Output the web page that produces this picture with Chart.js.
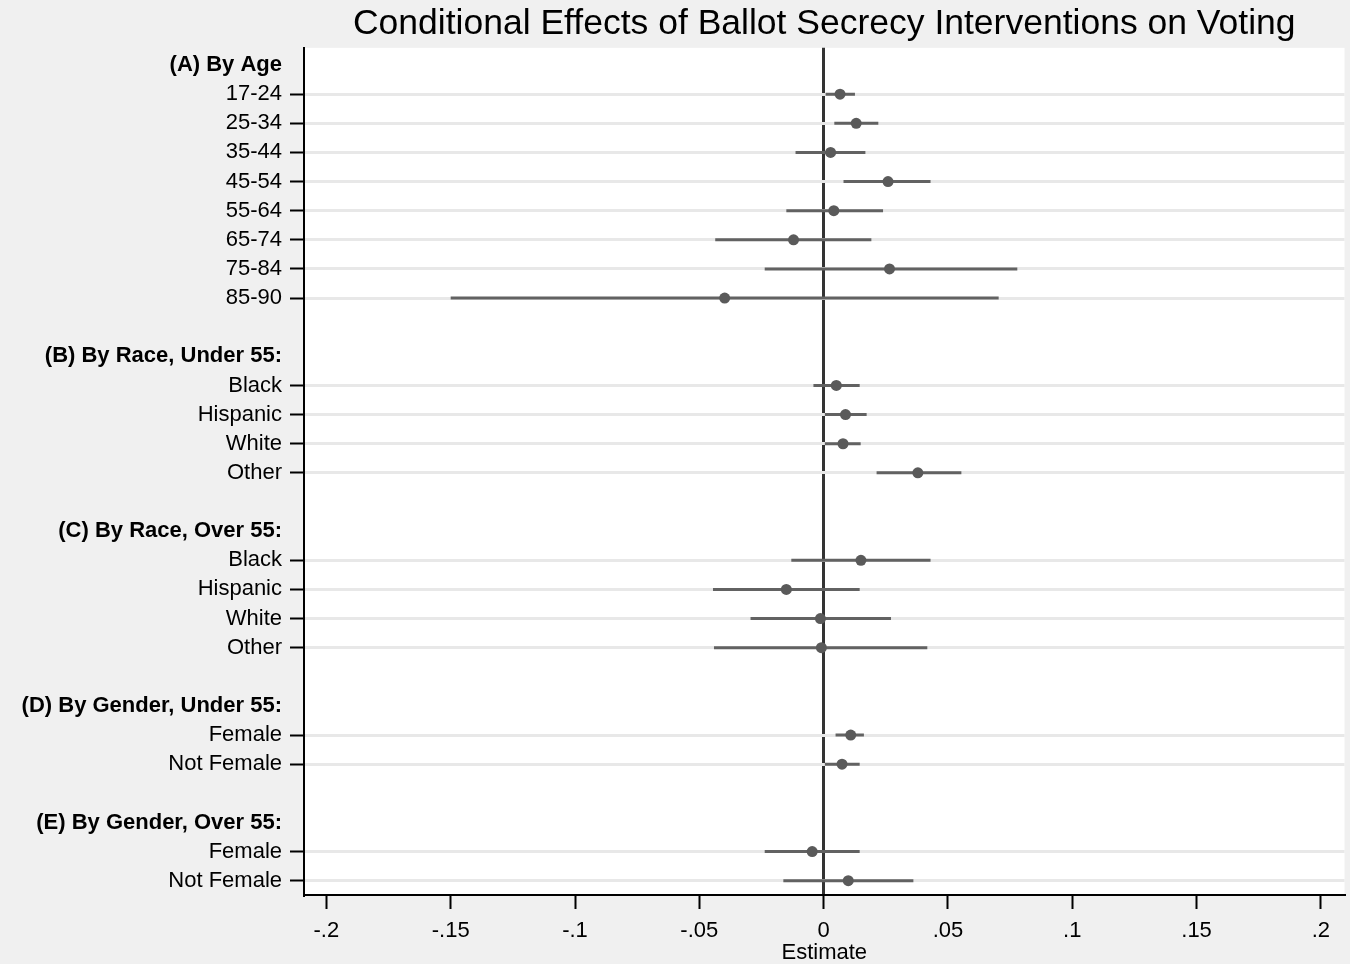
<!DOCTYPE html>
<html>
<head>
<meta charset="utf-8">
<script src="https://cdn.jsdelivr.net/npm/chart.js@4.4.1/dist/chart.umd.min.js"></script>
<style>
  html, body { margin: 0; padding: 0; background: #f0f0f0; }
  #wrap { width: 1350px; height: 964px; }
</style>
</head>
<body>
<div id="wrap"><canvas id="coefChart" width="1350" height="964"></canvas></div>
<script>
// rows, top to bottom (headers and blank spacer rows included)
const rowLabels = [
  '(A) By Age', '17-24', '25-34', '35-44', '45-54', '55-64', '65-74', '75-84', '85-90', '',
  '(B) By Race, Under 55:', 'Black', 'Hispanic', 'White', 'Other', '',
  '(C) By Race, Over 55:', 'Black', 'Hispanic', 'White', 'Other', '',
  '(D) By Gender, Under 55:', 'Female', 'Not Female', '',
  '(E) By Gender, Over 55:', 'Female', 'Not Female'
];

// point estimates and confidence bounds (null = header / spacer row)
const estimates = [
  null, 0.0066, 0.0131, 0.0028, 0.0259, 0.0041, -0.0121, 0.0265, -0.0398, null,
  null, 0.0051, 0.0088, 0.0078, 0.0379, null,
  null, 0.0150, -0.0150, -0.0013, -0.0009, null,
  null, 0.0109, 0.0074, null,
  null, -0.0046, 0.0099
];
const lowerCI = [
  null, 0.0008, 0.0043, -0.0113, 0.0080, -0.0150, -0.0436, -0.0237, -0.1500, null,
  null, -0.0041, 0.0005, 0.0005, 0.0213, null,
  null, -0.0130, -0.0445, -0.0294, -0.0441, null,
  null, 0.0048, 0.0005, null,
  null, -0.0237, -0.0162
];
const upperCI = [
  null, 0.0126, 0.0220, 0.0168, 0.0430, 0.0239, 0.0192, 0.0779, 0.0704, null,
  null, 0.0145, 0.0173, 0.0149, 0.0554, null,
  null, 0.0430, 0.0145, 0.0271, 0.0417, null,
  null, 0.0162, 0.0145, null,
  null, 0.0145, 0.0361
];

const xTickValues = [-0.2, -0.15, -0.1, -0.05, 0, 0.05, 0.1, 0.15, 0.2];

const FONT = "'Liberation Sans', Arial, Helvetica, sans-serif";
const ctx = document.getElementById('coefChart').getContext('2d');

const isHeader = i => (rowLabels[i] || '').startsWith('(');
const isData = i => estimates[i] !== null && estimates[i] !== undefined;

// one dataset for the dots
const pointData = [];
estimates.forEach((v, i) => { if (v !== null) pointData.push({ x: v, y: i }); });

// one small line dataset per confidence interval
const ciSets = [];
estimates.forEach((v, i) => {
  if (v === null) return;
  ciSets.push({
    data: [{ x: lowerCI[i], y: i }, { x: upperCI[i], y: i }],
    showLine: true,
    borderColor: '#626262',
    borderWidth: 3,
    pointRadius: 0,
    pointHoverRadius: 0,
    fill: false
  });
});

// white plot region on grey background
const plotBg = {
  id: 'plotBg',
  beforeDraw(chart) {
    const a = chart.chartArea;
    const c = chart.ctx;
    c.save();
    c.fillStyle = '#ffffff';
    c.fillRect(a.left, a.top, a.right - a.left, a.bottom - a.top);
    c.restore();
  }
};

const fmtTick = v => {
  if (Math.abs(v) < 1e-9) return '0';
  const s = String(Math.round(v * 100) / 100);
  return s.replace('0.', '.');
};

new Chart(ctx, {
  type: 'scatter',
  data: {
    datasets: [
      {
        data: pointData,
        backgroundColor: '#5a5a5a',
        borderColor: '#5a5a5a',
        pointRadius: 5.5,
        pointHoverRadius: 5.5,
        pointBorderWidth: 0
      },
      ...ciSets
    ]
  },
  options: {
    responsive: false,
    animation: false,
    events: [],
    layout: { padding: { left: 0, right: 5, top: 0, bottom: 0 } },
    plugins: {
      legend: { display: false },
      tooltip: { enabled: false },
      title: {
        display: true,
        fullSize: false,
        text: 'Conditional Effects of Ballot Secrecy Interventions on Voting',
        color: '#000',
        font: { family: FONT, size: 35.5, weight: 'normal', lineHeight: 1.15 },
        padding: { top: 4, bottom: 3 }
      }
    },
    scales: {
      x: {
        type: 'linear',
        min: -0.209,
        max: 0.2095,
        afterBuildTicks: scale => { scale.ticks = xTickValues.map(v => ({ value: v })); },
        afterFit: scale => { scale.height = 69; },
        border: { display: true, color: '#000', width: 2 },
        grid: {
          color: c => (c.tick && Math.abs(c.tick.value) < 1e-9) ? '#333333' : 'rgba(0,0,0,0)',
          lineWidth: 3,
          drawTicks: true,
          tickLength: 14,
          tickColor: '#000',
          tickWidth: 2
        },
        ticks: {
          color: '#000',
          font: { family: FONT, size: 22 },
          padding: 9,
          maxRotation: 0,
          autoSkip: false,
          callback: v => fmtTick(v)
        },
        title: {
          display: true,
          text: 'Estimate',
          color: '#000',
          font: { family: FONT, size: 22, lineHeight: 1.0 },
          padding: { top: 0, bottom: 0 }
        }
      },
      y: {
        type: 'linear',
        reverse: true,
        min: -0.59,
        max: 28.49,
        afterBuildTicks: scale => { scale.ticks = rowLabels.map((_, i) => ({ value: i })); },
        afterFit: scale => { scale.width = 304; },
        border: { display: true, color: '#000', width: 2 },
        grid: {
          color: c => isData(c.index) ? '#e8e8e8' : 'rgba(0,0,0,0)',
          lineWidth: 3,
          drawTicks: true,
          tickLength: 14,
          tickColor: c => isData(c.index) ? '#000' : 'rgba(0,0,0,0)',
          tickWidth: 2
        },
        ticks: {
          color: '#000',
          autoSkip: false,
          padding: 8,
          font: c => ({ family: FONT, size: 22, weight: isHeader(c.index) ? 'bold' : 'normal' }),
          callback: (v, i) => rowLabels[i]
        }
      }
    }
  },
  plugins: [plotBg]
});
</script>
</body>
</html>
